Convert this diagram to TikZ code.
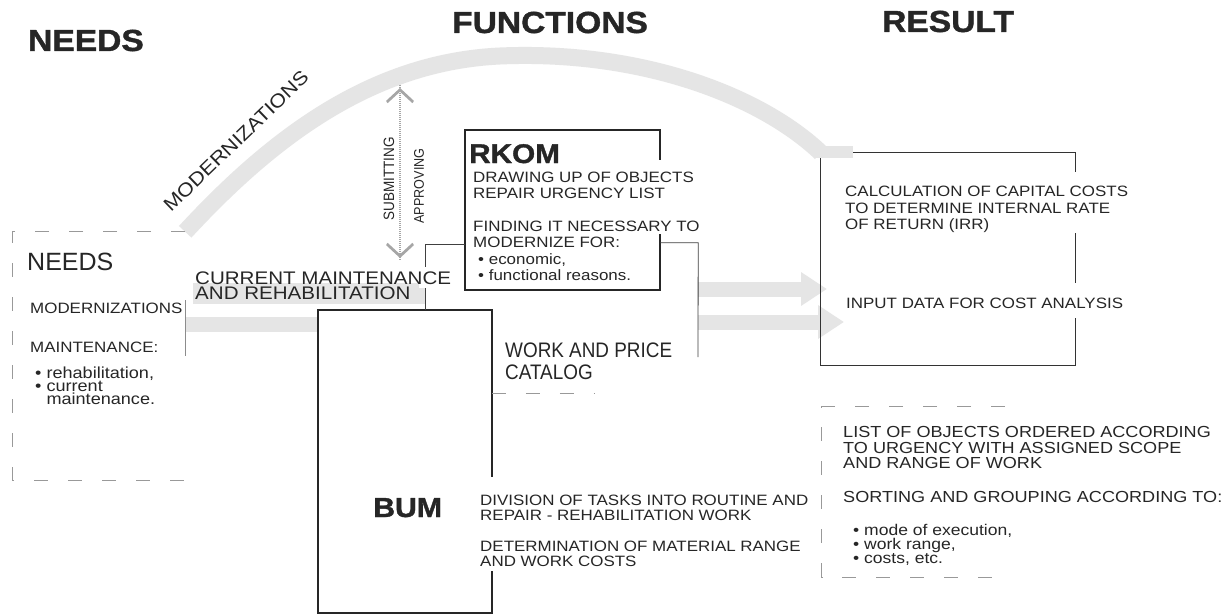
\documentclass[tikz,border=0pt]{standalone}
\usepackage{fontspec}
\setmainfont[FakeStretch=1.13]{Liberation Sans}
\newfontfamily\condf[FakeStretch=0.9]{Liberation Sans}
\newfontfamily\plainf{Liberation Sans}
\newfontfamily\heavyf[FakeStretch=1.1,FakeBold=1.3]{Liberation Sans Bold}
\usetikzlibrary{arrows.meta,calc}
\newcommand\myfs[2]{\fontsize{#1}{#2}\selectfont\lineskiplimit=-100pt\relax}
\begin{document}
\begin{tikzpicture}[x=1pt,y=-1pt,
  txt/.style={inner sep=0pt, anchor=north west, align=left, text=black!85},
  btxt/.style={inner sep=0pt, anchor=base west, text=black!85},
  hdr/.style={inner sep=0pt, anchor=base west, text=black!85, font=\heavyf\myfs{30.5}{30.5}},
  strongbox/.style={draw=black!85, line width=2.2pt, inner sep=0pt},
  thinbox/.style={draw=black!80, line width=1.1pt, inner sep=0pt},
  hollow/.style={draw=none, inner sep=0pt},
  faint/.style={draw=black!40, line width=0.7pt, dash pattern=on 14pt off 20pt},
  faintsolid/.style={draw=black!45, line width=0.7pt},
  band/.style={draw=black!10, line width=15pt},
  bandarrow/.style={band, -{Triangle[length=26pt,width=32pt]}},
  conn/.style={draw=black!75, line width=0.8pt},
  arrowshaft/.style={draw=black!35, line width=2.5pt, dash pattern=on 1pt off 1pt},
  arrowtips/.style={draw=black!35, line width=2pt,
    {Straight Barb[length=12pt,width=26pt]}-{Straight Barb[length=12pt,width=26pt]}},
  mask/.style={fill=white}
]
\useasboundingbox (0,0) rectangle (1231,615);
\fill[white] (0,0) rectangle (1231,615);

% ---------- boxes (nodes) ----------
\node[hollow, minimum width=172pt, minimum height=248pt] (needsbox) at (99,356) {};
\node[hollow, minimum width=195pt, minimum height=160pt] (rkom) at (562.5,210) {};
\node[hollow, minimum width=174pt, minimum height=303pt] (bum) at (405,461.5) {};
\node[hollow, minimum width=254pt, minimum height=212pt] (res1) at (948,259) {};
\node[hollow, minimum width=183pt, minimum height=170pt] (res2) at (913.5,492) {};
\node[hollow, minimum width=206pt, minimum height=150pt] (catalog) at (595,318) {};
\coordinate (j1) at (425,244);
\coordinate (j3) at (698,357);
\coordinate (atop) at (400,89);
\coordinate (abot) at (400,257);
\coordinate (tip1) at (827,289);
\coordinate (tip2) at (844,322);

% ---------- dotted bands ----------
\draw[band, line width=17pt] (needsbox.north east) .. controls (270,140) and (370,62) .. (500,56)
      .. controls (640,50) and (760,95) .. (res1.north west);
\draw[band] (needsbox.east |- 0,324) -- (bum.west |- 0,324);
\fill[black!10] (193,283) rectangle (425,304);
\draw[bandarrow] (catalog.north east |- tip1) -- (tip1);
\draw[bandarrow] (catalog.north east |- tip2) -- (tip2);

% ---------- double arrow ----------
\draw[arrowshaft] ([yshift=4pt]atop) -- ([yshift=-4pt]abot);
\draw[arrowtips] (atop) -- ++(0,1pt);
\draw[arrowtips] (abot) -- ++(0,-1pt);
\node[inner sep=0pt, rotate=90, text=black!85, font=\condf\myfs{15}{15}] (subm) at (389,179) {SUBMITTING};
\node[inner sep=0pt, rotate=90, text=black!85, font=\condf\myfs{14}{14}] (appr) at (419,186) {APPROVING};
\node[inner sep=0pt, rotate=44, text=black!85, font=\myfs{19}{19}] (modDiag) at (236,141) {MODERNIZATIONS};

% ---------- box outlines ----------
\draw[strongbox] (rkom.north west) rectangle (rkom.south east);
\draw[strongbox] (bum.north west) rectangle (bum.south east);
\draw[thinbox] (res1.north west) rectangle (res1.south east);
\draw[faint] (needsbox.north east) -- (needsbox.north west) -- (needsbox.south west) -- (needsbox.south east);
\draw[faintsolid] (needsbox.east |- 0,300) -- (needsbox.east |- 0,356);
\draw[faint] (res2.north east) -- (res2.north west) -- (res2.south west) -- (res2.south east);
\draw[faint] (catalog.south west) -- (catalog.south);

% ---------- connectors ----------
\draw[conn] (rkom.west |- j1) -- (j1) -- (j1 |- bum.north);
\draw[conn] (rkom.east |- catalog.north east) -- (catalog.north east) -- (j3);

% ---------- masks (gaps in outlines) ----------
\fill[mask] (654,160) rectangle (667,234);
\fill[mask] (486,477) rectangle (499,571);
\fill[mask] (1069,172) rectangle (1082,233);
\fill[mask] (1069,283) rectangle (1082,318);
\fill[mask] (419,267) rectangle (431,288);
\fill[black!10] (814,146) rectangle (853,158);

% ---------- headers ----------
\node[hdr] (hNeeds) at (28,51) {NEEDS};
\node[hdr] (hFunc) at (452,33) {FUNCTIONS};
\node[hdr] (hRes) at (882,32) {RESULT};

% ---------- left box texts ----------
\node[btxt, font=\plainf\myfs{25}{25}] (needsT) at (27,270) {NEEDS};
\node[btxt, font=\myfs{15}{15}] (modT) at (30,313) {MODERNIZATIONS};
\node[btxt, font=\myfs{15}{15}] (mainT) at (30,352) {MAINTENANCE:};
\node[txt, font=\myfs{16}{13}] (mainL) at (35,366.3) {• rehabilitation,\\• current\\\hphantom{• }maintenance.};

\node[txt, font=\myfs{18.2}{15}] (cur) at (195,271.5) {CURRENT MAINTENANCE\\AND REHABILITATION};

% ---------- RKOM ----------
\node[btxt, font=\heavyf\myfs{27}{27}] (rkomT) at (469,163) {RKOM};
\node[txt, font=\myfs{15}{16.3}] (rkomL) at (473,171.9)
  {DRAWING UP OF OBJECTS\\REPAIR URGENCY LIST\\[16.3pt]FINDING IT NECESSARY TO\\MODERNIZE FOR:\\\kern5pt• economic,\\\kern5pt• functional reasons.};

% ---------- catalog ----------
\node[txt, font=\condf\myfs{21}{22}] (catT) at (505,342.5) {WORK AND PRICE\\CATALOG};

% ---------- BUM ----------
\node[btxt, font=\heavyf\myfs{27.5}{27.5}] (bumT) at (373,517) {BUM};
\node[txt, font=\myfs{15}{14.5}] (bumA) at (480,494.9) {DIVISION OF TASKS INTO ROUTINE AND\\REPAIR - REHABILITATION WORK};
\node[txt, font=\myfs{15}{14.5}] (bumB) at (480,540.9) {DETERMINATION OF MATERIAL RANGE\\AND WORK COSTS};

% ---------- results ----------
\node[txt, font=\myfs{15}{16.5}] (calc) at (845,185.9) {CALCULATION OF CAPITAL COSTS\\TO DETERMINE INTERNAL RATE\\OF RETURN (IRR)};
\node[btxt, font=\myfs{15}{15}] (input) at (846,308) {INPUT DATA FOR COST ANALYSIS};
\node[txt, font=\myfs{16}{15.5}] (listT) at (843,426.2) {LIST OF OBJECTS ORDERED ACCORDING\\TO URGENCY WITH ASSIGNED SCOPE\\AND RANGE OF WORK};
\node[btxt, font=\myfs{16}{16}] (sortT) at (843,502) {SORTING AND GROUPING ACCORDING TO:};
\node[txt, font=\myfs{15.5}{14}] (sortL) at (853,523.7) {• mode of execution,\\• work range,\\• costs, etc.};
\end{tikzpicture}
\end{document}
